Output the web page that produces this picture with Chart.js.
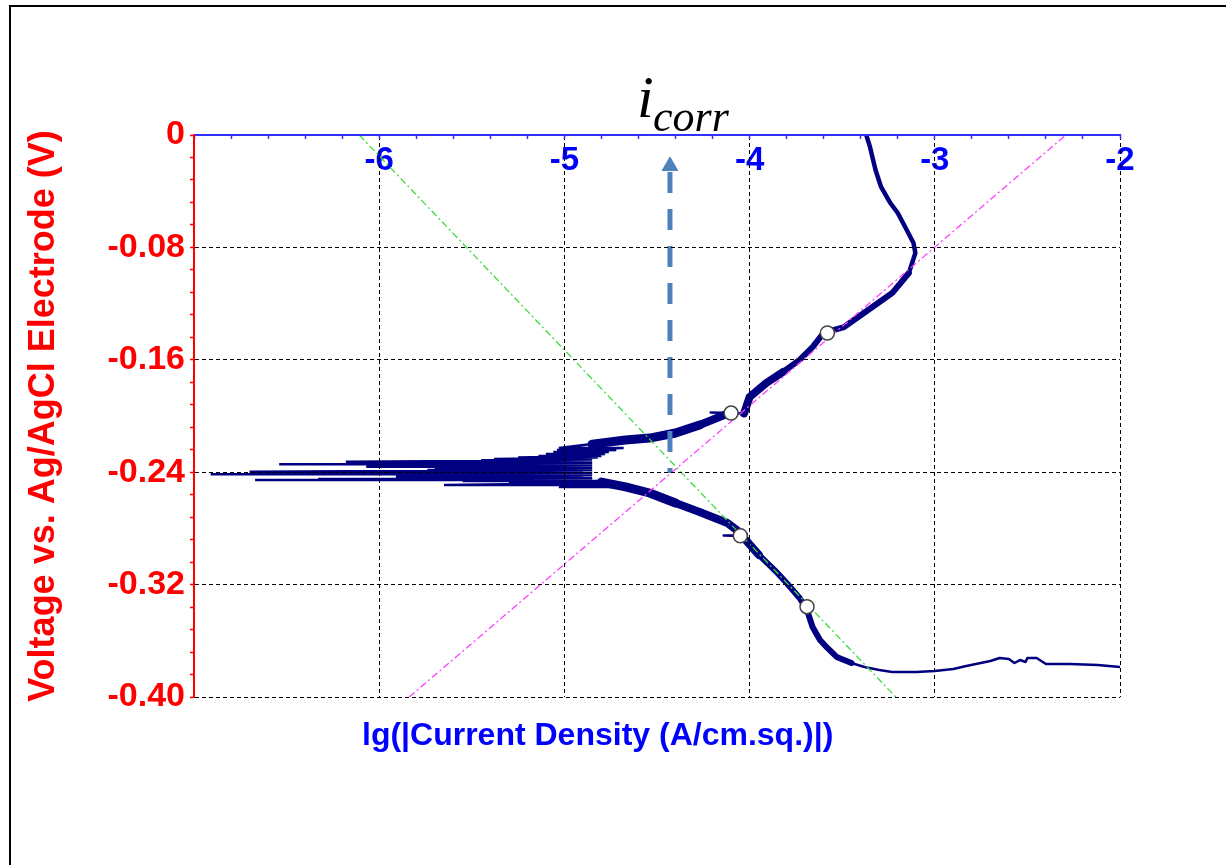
<!DOCTYPE html>
<html>
<head>
<meta charset="utf-8">
<script src="https://cdn.jsdelivr.net/npm/chart.js@4/dist/chart.umd.min.js"></script>
<style>
  body { margin: 0; background: #fff; }
  canvas { display: block; }
</style>
</head>
<body>
<canvas id="tafel" width="1226" height="865"></canvas>
<script>
// lg|i| (x) and potential in V (y)
const cathodicLg = [-2.00, -2.12, -2.27, -2.40, -2.45, -2.50, -2.51, -2.54, -2.57, -2.60, -2.65, -2.70,
  -2.83, -2.90, -3.00, -3.10, -3.23, -3.30, -3.38, -3.45, -3.53, -3.58, -3.62, -3.66, -3.69, -3.73,
  -3.80, -3.85, -3.95, -4.04, -4.14, -4.03, -4.12, -4.27, -4.40, -4.54, -4.67, -4.80]
const cathodicV = [-0.3786, -0.3772, -0.3765, -0.3765, -0.3722, -0.3722, -0.3751, -0.3737, -0.3758, -0.3730, -0.3722, -0.3744,
  -0.3779, -0.3801, -0.3815, -0.3822, -0.3822, -0.3808, -0.3786, -0.3758, -0.3715, -0.3651, -0.3594, -0.3502, -0.3381, -0.3295,
  -0.3189, -0.3117, -0.2989, -0.2854, -0.2850, -0.2850, -0.2762, -0.2683, -0.2619, -0.2548, -0.2505, -0.2470]

// noisy region around E_corr: the scan swings out in horizontal spikes
const noiseLg = [-4.70, -5.03, -4.72, -5.65, -4.76, -5.30, -4.80, -5.55, -4.85, -6.67, -4.88, -6.33,
  -4.85, -5.70, -4.90, -5.91, -4.85, -5.72, -4.90, -6.91, -4.85, -5.70, -4.90, -6.70,
  -4.85, -5.74, -4.85, -5.70, -4.90, -6.07, -4.85, -5.72, -4.90, -6.54, -4.85, -5.76,
  -4.90, -6.18, -4.85, -5.45, -4.85, -5.38, -4.82, -5.25, -4.80, -5.14, -4.78, -5.10,
  -4.76, -5.06, -4.72, -5.04, -4.68, -5.03, -4.85]
const noiseV = [-0.2505, -0.2505, -0.2491, -0.2491, -0.2477, -0.2477, -0.2463, -0.2463, -0.2456, -0.2456, -0.2448, -0.2448,
  -0.2441, -0.2441, -0.2432, -0.2432, -0.2420, -0.2420, -0.2415, -0.2415, -0.2405, -0.2405, -0.2396, -0.2396,
  -0.2385, -0.2385, -0.2370, -0.2370, -0.2361, -0.2361, -0.2350, -0.2350, -0.2344, -0.2344, -0.2334, -0.2334,
  -0.2325, -0.2325, -0.2315, -0.2315, -0.2306, -0.2306, -0.2295, -0.2295, -0.2285, -0.2285, -0.2270, -0.2270,
  -0.2256, -0.2256, -0.2242, -0.2242, -0.2228, -0.2228, -0.2200]

const anodicLg = [-4.85, -4.67, -4.54, -4.40, -4.27, -4.11, -4.21, -4.03, -4.00, -3.91, -3.82, -3.73,
  -3.66, -3.60, -3.49, -3.36, -3.23, -3.14, -3.105, -3.115, -3.16, -3.20, -3.24, -3.29, -3.32, -3.35, -3.37]
const anodicV = [-0.2200, -0.2171, -0.2157, -0.2121, -0.2064, -0.1979, -0.1975, -0.1982, -0.1865, -0.1765, -0.1687, -0.1601,
  -0.1509, -0.1409, -0.1367, -0.1246, -0.1125, -0.0982, -0.0840, -0.0769, -0.0655, -0.0555, -0.0484, -0.0370, -0.0249, -0.0085, 0]

// Tafel fit lines
const anodicTafelLg = [-5.838, -2.292]
const anodicTafelV = [-0.40, 0]
const cathodicTafelLg = [-6.108, -3.211]
const cathodicTafelV = [0, -0.40]

// fit points (open circles)
const fitLg = [-4.10, -3.58, -4.05, -3.69]
const fitV = [-0.1979, -0.1409, -0.2852, -0.3357]

// i_corr arrow
const icorrLg = -4.43
const arrowV = [-0.2406, -0.0263]
const arrowHeadV = -0.0221

const pts = (xs, ys) => xs.map((x, i) => ({ x: x, y: ys[i] }))

const navy = '#000080'
const isWhole = (v, step) => Math.abs(v / step - Math.round(v / step)) < 1e-6

// width of the scan band: thick where the current is small and noisy
function bandWidth(ctx) {
  const x = ctx.p0.parsed.x, v = ctx.p0.parsed.y
  if (Math.abs(ctx.p1.parsed.y - v) < 0.001 && x < -3.9) return 2.5 // short whisker
  if (x > -3.45 && v < -0.36) return 2.5
  if (v > -0.1) return 4.5
  if (x < -4.3) return 9
  if (x < -3.9) return 8
  return 6
}

const extras = {
  id: 'extras',
  afterDraw(chart) {
    const c = chart.ctx
    c.save()
    // outer frame
    c.strokeStyle = '#000'
    c.lineWidth = 2
    c.strokeRect(10, 6, 1400, 1000)
    // i_corr label
    c.fillStyle = '#000'
    c.textBaseline = 'alphabetic'
    c.font = 'italic 60px "Liberation Serif"'
    c.fillText('i', 637, 117)
    c.font = 'italic 44px "Liberation Serif"'
    c.fillText('corr', 653, 131)
    // x axis title
    c.fillStyle = '#0000ff'
    c.font = 'bold 32px "Liberation Sans"'
    c.fillText('lg(|Current Density (A/cm.sq.)|)', 362, 745)
    c.restore()
  }
}

new Chart(document.getElementById('tafel'), {
  type: 'scatter',
  data: {
    datasets: [
      {
        data: pts(fitLg, fitV), order: 0,
        pointRadius: 7, pointBackgroundColor: '#fff', pointBorderColor: '#444', pointBorderWidth: 1.5
      },
      {
        data: [{ x: icorrLg, y: arrowHeadV }], order: 1,
        pointStyle: 'triangle', pointRadius: 9, pointBackgroundColor: '#4f81bd', pointBorderColor: '#4f81bd'
      },
      {
        data: pts([icorrLg, icorrLg], arrowV), order: 1, showLine: true, pointRadius: 0,
        borderColor: '#4f81bd', borderWidth: 5, borderDash: [21, 16], borderDashOffset: 16
      },
      {
        data: pts(cathodicTafelLg, cathodicTafelV), order: 2, showLine: true, pointRadius: 0,
        borderColor: '#3ddc3d', borderWidth: 1.3, borderDash: [7, 3, 2, 3]
      },
      {
        data: pts(anodicTafelLg, anodicTafelV), order: 2, showLine: true, pointRadius: 0,
        borderColor: '#ff3cff', borderWidth: 1.3, borderDash: [7, 3, 2, 3]
      },
      {
        data: pts(noiseLg, noiseV), order: 3, showLine: true, pointRadius: 0,
        borderColor: navy, borderWidth: 2.5, borderJoinStyle: 'bevel'
      },
      {
        data: pts(cathodicLg, cathodicV), order: 3, showLine: true, pointRadius: 0,
        borderColor: navy, borderWidth: 6, borderCapStyle: 'round', borderJoinStyle: 'round',
        segment: { borderWidth: bandWidth }
      },
      {
        data: pts(anodicLg, anodicV), order: 3, showLine: true, pointRadius: 0,
        borderColor: navy, borderWidth: 6, borderCapStyle: 'round', borderJoinStyle: 'round',
        segment: { borderWidth: bandWidth }
      }
    ]
  },
  options: {
    responsive: false,
    animation: false,
    devicePixelRatio: 1,
    layout: { padding: { left: 0, top: 0, right: 106, bottom: 168 } },
    plugins: { legend: { display: false }, tooltip: { enabled: false } },
    scales: {
      x: {
        type: 'linear', position: 'top', min: -7, max: -2,
        afterFit: s => { s.height = 135 },
        border: { color: '#3030ff', width: 2, dash: [4, 3], z: 2 },
        grid: {
          z: 1, lineWidth: 1, tickLength: -4, tickColor: '#3030ff', tickWidth: 1.5,
          color: ctx => (isWhole(ctx.tick.value, 1) && ctx.tick.value > -7) ? '#000' : 'rgba(0,0,0,0)'
        },
        ticks: {
          stepSize: 0.2, mirror: true, padding: 6, autoSkip: false, maxRotation: 0,
          color: '#0000ff', font: { family: 'Liberation Sans', size: 33, weight: 'bold' },
          callback: v => (isWhole(v, 1) && v > -7) ? String(Math.round(v)) : ''
        }
      },
      y: {
        type: 'linear', min: -0.4, max: 0,
        afterFit: s => { s.width = 194 },
        border: { color: '#ff0000', width: 2, dash: [4, 3], z: 2 },
        grid: {
          z: 1, lineWidth: 1, tickLength: 4, tickColor: '#ff0000', tickWidth: 1.5,
          color: ctx => (isWhole(ctx.tick.value, 0.08) && ctx.tick.value < -0.01) ? '#000' : 'rgba(0,0,0,0)'
        },
        ticks: {
          stepSize: 0.016, padding: 5, autoSkip: false,
          color: '#ff0000', font: { family: 'Liberation Sans', size: 34, weight: 'bold' },
          callback: v => {
            if (!isWhole(v, 0.08)) return ''
            return Math.abs(v) < 1e-9 ? '0' : v.toFixed(2)
          }
        },
        title: {
          display: true, text: 'Voltage vs. Ag/AgCl Electrode (V)', color: '#ff0000',
          font: { family: 'Liberation Sans', size: 36, weight: 'bold' },
          padding: { top: 22, bottom: 0 }
        }
      }
    }
  },
  plugins: [extras]
})
</script>
</body>
</html>
